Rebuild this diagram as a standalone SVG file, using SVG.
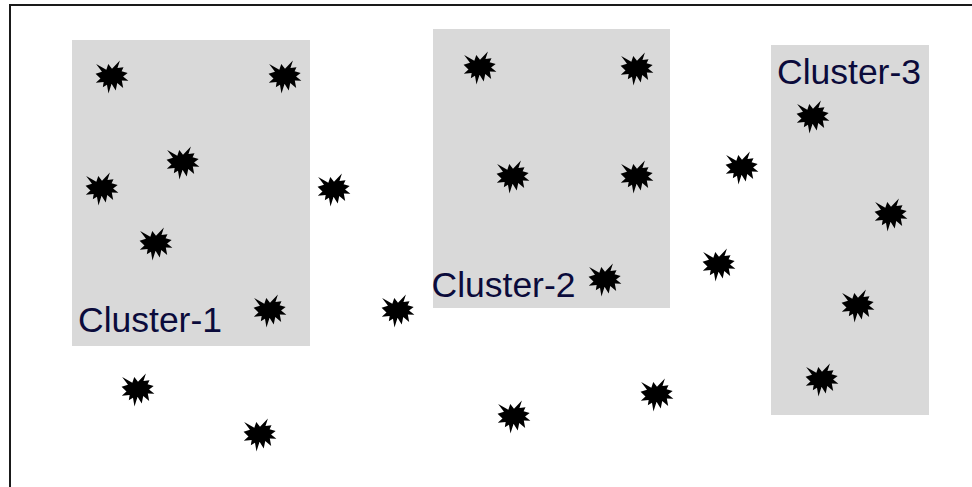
<svg xmlns="http://www.w3.org/2000/svg" xmlns:xlink="http://www.w3.org/1999/xlink" width="972" height="487" viewBox="0 0 972 487">
  <style>
    .frame { fill: #ffffff; stroke: #1a1a1a; stroke-width: 2; }
    .cluster { fill: #d9d9d9; stroke: none; }
    .label { font-family: "Liberation Sans", Arial, sans-serif; font-size: 35.5px; fill: #0b0b3b; }
    .pt { fill: #000000; }
  </style>
  <defs>
    <!-- irregular burst marker, centred on the origin, about 33 px across -->
    <path id="burst" transform="scale(0.152)" d="M0,-53.5 L52,-108 L36,-58.6 L75.8,-63.4 L63.1,-37.3 L103,-26.6 L72.9,-3.5 L108,24.9 L64.6,22.9 L73.5,73 L34.5,39.2 L24.5,89.4 L-2.9,44.3 L-23.2,108 L-33.1,51.7 L-60.4,68.2 L-54.9,33.6 L-106.7,37.9 L-75.8,10.5 L-108,-21.9 L-66,-34 L-104.3,-85.1 L-37.3,-47.9 L-24.5,-85.1 Z"/>
  </defs>

  <rect class="frame" x="10" y="5" width="1000" height="500"/>

  <g id="cluster-1">
    <rect class="cluster" x="72" y="40" width="238" height="306"/>
    <text class="label" x="78" y="332">Cluster-1</text>
  </g>
  <g id="cluster-2">
    <rect class="cluster" x="433" y="29" width="237" height="279"/>
    <text class="label" x="431.5" y="297">Cluster-2</text>
  </g>
  <g id="cluster-3">
    <rect class="cluster" x="771" y="45" width="158" height="370"/>
    <text class="label" x="777" y="84">Cluster-3</text>
  </g>

  <g id="points" class="pt">
    <g id="p1"><use xlink:href="#burst" x="112" y="77"/></g>
    <g id="p2"><use xlink:href="#burst" x="285" y="77"/></g>
    <g id="p3"><use xlink:href="#burst" x="183" y="163"/></g>
    <g id="p4"><use xlink:href="#burst" x="102" y="189"/></g>
    <g id="p5"><use xlink:href="#burst" x="156" y="244"/></g>
    <g id="p6"><use xlink:href="#burst" x="270" y="311"/></g>
    <g id="p7"><use xlink:href="#burst" x="334" y="190"/></g>
    <g id="p8"><use xlink:href="#burst" x="398" y="311"/></g>
    <g id="p9"><use xlink:href="#burst" x="138" y="390"/></g>
    <g id="p10"><use xlink:href="#burst" x="260" y="435"/></g>
    <g id="p11"><use xlink:href="#burst" x="480" y="68"/></g>
    <g id="p12"><use xlink:href="#burst" x="637" y="69"/></g>
    <g id="p13"><use xlink:href="#burst" x="513" y="177"/></g>
    <g id="p14"><use xlink:href="#burst" x="637" y="177"/></g>
    <g id="p15"><use xlink:href="#burst" x="605" y="280"/></g>
    <g id="p16"><use xlink:href="#burst" x="742" y="168"/></g>
    <g id="p17"><use xlink:href="#burst" x="719" y="265"/></g>
    <g id="p18"><use xlink:href="#burst" x="514" y="417"/></g>
    <g id="p19"><use xlink:href="#burst" x="657" y="395"/></g>
    <g id="p20"><use xlink:href="#burst" x="813" y="117"/></g>
    <g id="p21"><use xlink:href="#burst" x="891" y="215"/></g>
    <g id="p22"><use xlink:href="#burst" x="858" y="306"/></g>
    <g id="p23"><use xlink:href="#burst" x="822" y="380"/></g>
  </g>
</svg>
